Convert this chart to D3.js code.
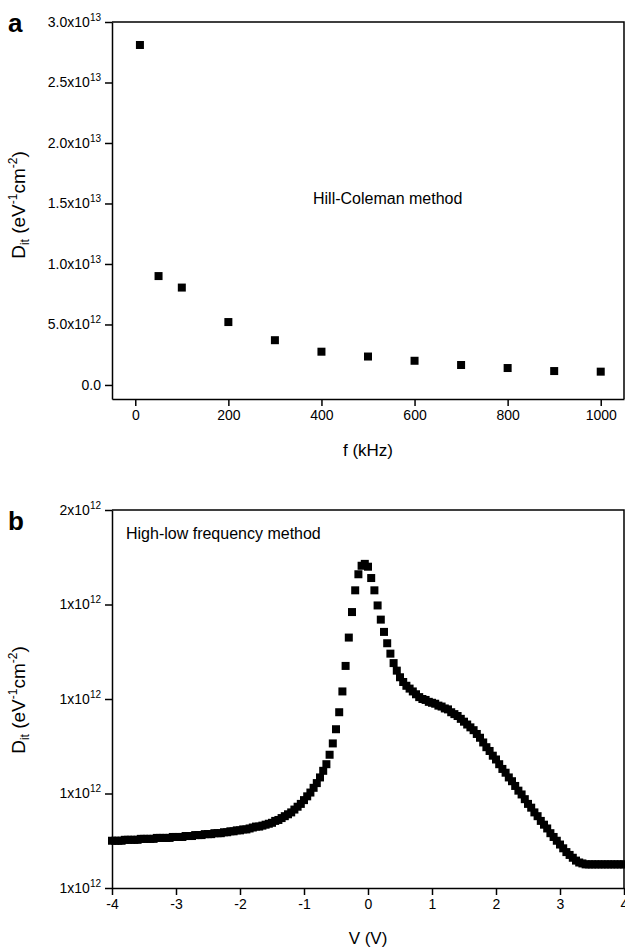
<!DOCTYPE html>
<html>
<head>
<meta charset="utf-8">
<script src="https://cdn.jsdelivr.net/npm/d3@7"></script>
<style>
  body { margin: 0; background: #fff; }
  text { font-family: "Liberation Sans", Arial, sans-serif; fill: #000; }
</style>
</head>
<body>
<svg id="chart" width="625" height="948"></svg>
<script>
// ---- data, panel a (Hill-Coleman) ----
const freqKHz = [10, 50, 100, 200, 300, 400, 500, 600, 700, 800, 900, 1000];
const ditHillColeman = [2.81e13, 9.0e12, 8.05e12, 5.2e12, 3.7e12, 2.75e12, 2.35e12, 2.0e12, 1.65e12, 1.4e12, 1.15e12, 1.1e12];
const xTicksA = [0, 200, 400, 600, 800, 1000];
const yTicksA = [0, 5e12, 1e13, 1.5e13, 2e13, 2.5e13, 3e13];

// ---- data, panel b (high-low frequency), D_it in units of 1e12 ----
const voltsB = [
  -4.00, -3.95, -3.90, -3.85, -3.80, -3.75, -3.70, -3.65, -3.60, -3.55,
  -3.50, -3.45, -3.40, -3.35, -3.30, -3.25, -3.20, -3.15, -3.10, -3.05,
  -3.00, -2.95, -2.90, -2.85, -2.80, -2.75, -2.70, -2.65, -2.60, -2.55,
  -2.50, -2.45, -2.40, -2.35, -2.30, -2.25, -2.20, -2.15, -2.10, -2.05,
  -2.00, -1.95, -1.90, -1.85, -1.80, -1.75, -1.70, -1.65, -1.60, -1.55,
  -1.50, -1.45, -1.40, -1.35, -1.30, -1.25, -1.20, -1.15, -1.10, -1.05,
  -1.00, -0.95, -0.90, -0.85, -0.80, -0.75, -0.70, -0.65, -0.60, -0.55,
  -0.50, -0.45, -0.40, -0.35, -0.30, -0.25, -0.20, -0.15, -0.10, -0.05,
   0.00,  0.05,  0.10,  0.15,  0.20,  0.25,  0.30,  0.35,  0.40,  0.45,
   0.50,  0.55,  0.60,  0.65,  0.70,  0.75,  0.80,  0.85,  0.90,  0.95,
   1.00,  1.05,  1.10,  1.15,  1.20,  1.25,  1.30,  1.35,  1.40,  1.45,
   1.50,  1.55,  1.60,  1.65,  1.70,  1.75,  1.80,  1.85,  1.90,  1.95,
   2.00,  2.05,  2.10,  2.15,  2.20,  2.25,  2.30,  2.35,  2.40,  2.45,
   2.50,  2.55,  2.60,  2.65,  2.70,  2.75,  2.80,  2.85,  2.90,  2.95,
   3.00,  3.05,  3.10,  3.15,  3.20,  3.25,  3.30,  3.35,  3.40,  3.45,
   3.50,  3.55,  3.60,  3.65,  3.70,  3.75,  3.80,  3.85,  3.90,  3.95,
   4.00
];
const ditHighLow = [
  1.150, 1.150, 1.150, 1.150, 1.151, 1.151, 1.151, 1.151, 1.151, 1.152,
  1.152, 1.152, 1.152, 1.152, 1.153, 1.153, 1.153, 1.153, 1.153, 1.154,
  1.154, 1.154, 1.154, 1.155, 1.155, 1.155, 1.156, 1.156, 1.156, 1.157,
  1.157, 1.157, 1.158, 1.158, 1.158, 1.159, 1.159, 1.160, 1.160, 1.161,
  1.161, 1.162, 1.162, 1.163, 1.164, 1.165, 1.165, 1.166, 1.167, 1.168,
  1.169, 1.171, 1.172, 1.174, 1.176, 1.178, 1.180, 1.183, 1.186, 1.189,
  1.193, 1.197, 1.201, 1.206, 1.211, 1.217, 1.224, 1.231, 1.241, 1.253,
  1.268, 1.286, 1.308, 1.335, 1.365, 1.392, 1.415, 1.432, 1.441, 1.443,
  1.440, 1.428, 1.415, 1.399, 1.384, 1.371, 1.359, 1.348, 1.338, 1.330,
  1.323, 1.318, 1.314, 1.311, 1.308, 1.305, 1.302, 1.300, 1.299, 1.297,
  1.296, 1.295, 1.293, 1.292, 1.290, 1.289, 1.286, 1.284, 1.282, 1.279,
  1.276, 1.273, 1.270, 1.267, 1.263, 1.259, 1.254, 1.249, 1.245, 1.240,
  1.236, 1.231, 1.226, 1.222, 1.217, 1.213, 1.208, 1.203, 1.199, 1.194,
  1.189, 1.185, 1.180, 1.176, 1.171, 1.167, 1.163, 1.158, 1.154, 1.150,
  1.146, 1.142, 1.138, 1.135, 1.132, 1.129, 1.127, 1.126, 1.125, 1.125,
  1.125, 1.125, 1.125, 1.125, 1.125, 1.125, 1.125, 1.125, 1.125, 1.125,
  1.125
];
const xTicksB = [-4, -3, -2, -1, 0, 1, 2, 3, 4];
const yTicksB = [1.1e12, 1.2e12, 1.3e12, 1.4e12, 1.5e12];

const svg = d3.select("#chart");

// Left, right edges shared by both panels
const X0 = 112, X1 = 624;

// Label like 3.0x10^13 with raised exponent
function sciLabel (sel, base, exp) {
  sel.text(null);
  sel.append("tspan").text(base);
  sel.append("tspan").attr("dy", -6).attr("font-size", 10).text(exp);
}

// Minor tick values between majors (n intervals per major step)
function minorTicks (majors, n, domain) {
  let step = majors[1] - majors[0], out = [];
  for (let v = majors[0] - step; v <= majors[majors.length - 1] + step; v += step) {
    for (let k = 1; k < n; k++) {
      let m = v + k * step / n;
      if (m >= domain[0] && m <= domain[1]) out.push(m);
    }
  }
  return out;
}

function drawFrame (g, x, y, xMajor, xMinorN, yMajor, yFmt, top, bottom) {
  let axX = g.append("g").attr("transform", `translate(0,${bottom})`);
  axX.call(d3.axisBottom(x).tickValues(minorTicks(xMajor, xMinorN, x.domain()))
      .tickSize(4).tickSizeOuter(0).tickFormat(""));
  axX.call(d3.axisBottom(x).tickValues(xMajor).tickSize(7).tickSizeOuter(0)
      .tickPadding(4).tickFormat((d) => String(d)));

  let axY = g.append("g").attr("transform", `translate(${X0},0)`);
  axY.call(d3.axisLeft(y).tickValues(minorTicks(yMajor, 2, y.domain()))
      .tickSize(4).tickSizeOuter(0).tickFormat(""));
  axY.call(d3.axisLeft(y).tickValues(yMajor).tickSize(7).tickSizeOuter(0).tickPadding(4));
  axY.selectAll(".tick text").each(function (d) { yFmt(d3.select(this), d); });

  g.selectAll(".domain, .tick line").attr("stroke", "#000").attr("stroke-width", 1.5);
  g.selectAll(".tick text").attr("font-size", 14)
    .style("font-family", "'Liberation Sans', Arial, sans-serif");

  // top and right frame lines
  g.append("path")
    .attr("d", `M${X0},${top}H${X1}V${bottom}`)
    .attr("fill", "none")
    .attr("stroke", "#000")
    .attr("stroke-width", 1.5);
}

function yTitle (g, cy) {
  let t = g.append("text")
    .attr("transform", `translate(25,${cy}) rotate(-90)`)
    .attr("text-anchor", "middle")
    .attr("font-size", 19);
  t.append("tspan").text("D");
  t.append("tspan").attr("dy", 4).attr("font-size", 12).text("it");
  t.append("tspan").attr("dy", -4).text(" (eV");
  t.append("tspan").attr("dy", -8).attr("font-size", 12).text("-1");
  t.append("tspan").attr("dy", 8).text("cm");
  t.append("tspan").attr("dy", -8).attr("font-size", 12).text("-2");
  t.append("tspan").attr("dy", 8).text(")");
}

function squares (g, data, x, y) {
  g.append("g").selectAll("rect")
    .data(data)
    .enter().append("rect")
    .attr("x", (d) => x(d[0]) - 4)
    .attr("y", (d) => y(d[1]) - 4)
    .attr("width", 8)
    .attr("height", 8)
    .attr("fill", "#000");
}

// ---------- panel a ----------
const topA = 22, botA = 399;
const xA = d3.scaleLinear().domain([-50, 1050]).range([X0, X1]);
const yA = d3.scaleLinear().domain([-1.16e12, 3e13]).range([botA, topA]);

const gA = svg.append("g").attr("class", "panel-a");
squares(gA, freqKHz.map((f, i) => [f, ditHillColeman[i]]), xA, yA);
drawFrame(gA, xA, yA, xTicksA, 6, yTicksA, (sel, d) => {
  if (d === 0) { sel.text("0.0"); return; }
  let e = Math.floor(Math.log10(d));
  sciLabel(sel, (d / Math.pow(10, e)).toFixed(1) + "x10", e);
}, topA, botA);
yTitle(gA, 205);

gA.append("text").attr("x", 8).attr("y", 32)
  .attr("font-size", 26).attr("font-weight", "bold").text("a");
gA.append("text").attr("x", 313).attr("y", 204)
  .attr("font-size", 16).text("Hill-Coleman method");
gA.append("text").attr("x", 368).attr("y", 456)
  .attr("text-anchor", "middle").attr("font-size", 17).text("f (kHz)");

// ---------- panel b ----------
const topB = 510, botB = 888;
const xB = d3.scaleLinear().domain([-4, 4]).range([X0, X1]);
const yB = d3.scaleLinear().domain([1.1e12, 1.5e12]).range([botB, topB]);

const gB = svg.append("g").attr("class", "panel-b");
squares(gB, voltsB.map((v, i) => [v, ditHighLow[i] * 1e12]), xB, yB);
drawFrame(gB, xB, yB, xTicksB, 6, yTicksB, (sel, d) => {
  sciLabel(sel, Math.round(d / 1e12) + "x10", 12);
}, topB, botB);
yTitle(gB, 700);

gB.append("text").attr("x", 8).attr("y", 530)
  .attr("font-size", 26).attr("font-weight", "bold").text("b");
gB.append("text").attr("x", 126).attr("y", 539)
  .attr("font-size", 16).text("High-low frequency method");
gB.append("text").attr("x", 368).attr("y", 944)
  .attr("text-anchor", "middle").attr("font-size", 17).text("V (V)");
</script>
</body>
</html>
